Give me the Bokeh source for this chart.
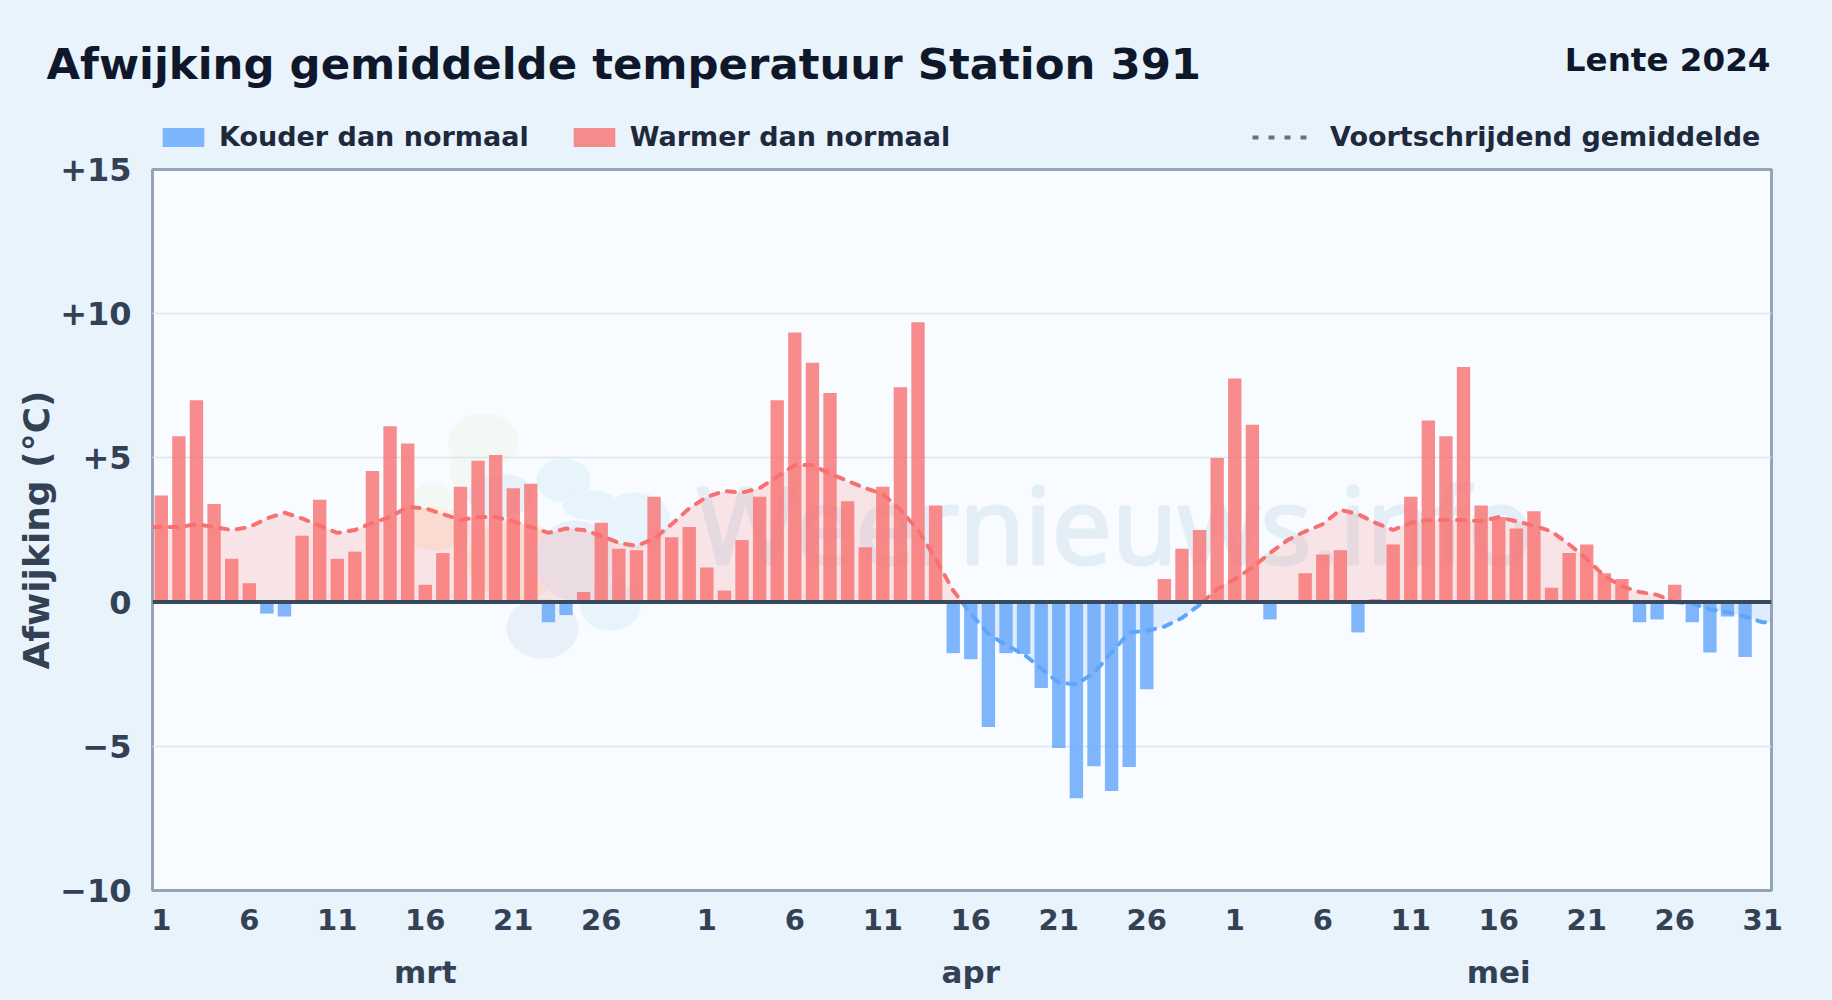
import numpy as np
from bokeh.plotting import figure
from bokeh.layouts import column
from bokeh.core.properties import value
from bokeh.models import (Range1d, FixedTicker, LinearAxis, Span, Legend, LegendItem)
from bokeh.embed import file_html
from bokeh.resources import INLINE

title = "Afwijking gemiddelde temperatuur Station 391"
subtitle = "Lente 2024"
y_label = "Afwijking (°C)"
watermark = "Weernieuws.info"
months = ["mrt", "apr", "mei"]
month_lengths = [31, 30, 31]
last_tick_day = [26, 26, 31]
legend_labels = ["Kouder dan normaal", "Warmer dan normaal", "Voortschrijdend gemiddelde"]

mrt_dev = [3.7, 5.75, 7.0, 3.4, 1.5, 0.65, -0.4, -0.5, 2.3, 3.55, 1.5, 1.75, 4.55, 6.1, 5.5, 0.6,
           1.7, 4.0, 4.9, 5.1, 3.95, 4.1, -0.7, -0.45, 0.35, 2.75, 1.85, 1.8, 3.65, 2.25, 2.6]
apr_dev = [1.2, 0.4, 2.15, 3.65, 7.0, 9.35, 8.3, 7.25, 3.5, 1.9, 4.0, 7.45, 9.7, 3.35, -1.77,
           -1.98, -4.33, -1.77, -1.8, -2.98, -5.06, -6.8, -5.69, -6.55, -5.72, -3.02, 0.8, 1.85, 2.5, 5.0]
mei_dev = [7.75, 6.15, -0.6, 0.0, 1.0, 1.65, 1.8, -1.05, 0.1, 2.0, 3.65, 6.3, 5.75, 8.15, 3.35,
           2.95, 2.55, 3.15, 0.5, 1.7, 2.0, 1.0, 0.8, -0.7, -0.6, 0.6, -0.7, -1.75, -0.5, -1.9, 0.0]

mrt_avg = [2.6, 2.6, 2.7, 2.6, 2.5, 2.6, 2.9, 3.1, 2.9, 2.65, 2.4, 2.5, 2.75, 2.95, 3.3, 3.25,
           3.05, 2.85, 2.95, 2.95, 2.8, 2.6, 2.4, 2.55, 2.5, 2.3, 2.05, 1.95, 2.2, 2.7, 3.25]
apr_avg = [3.65, 3.85, 3.8, 3.95, 4.35, 4.75, 4.75, 4.45, 4.2, 3.95, 3.75, 3.2, 2.5, 1.5, 0.4,
           -0.4, -1.1, -1.5, -1.8, -2.3, -2.8, -2.85, -2.45, -1.75, -1.05, -1.0, -0.85, -0.55, -0.1, 0.45]
mei_avg = [0.8, 1.2, 1.7, 2.15, 2.45, 2.7, 3.2, 3.05, 2.75, 2.5, 2.75, 2.85, 2.85, 2.85, 2.8,
           2.95, 2.8, 2.65, 2.45, 2.0, 1.5, 0.9, 0.55, 0.35, 0.25, 0.0, -0.05, -0.25, -0.35, -0.5, -0.7]

# pale logo behind the chart, given in page pixels: (colour, [(cx, cy, rx, ry), ...])
logo = [
    ("#f2f8f4", [(483, 441, 35, 28), (470, 470, 20, 25), (432, 497, 20, 14)]),
    ("#fbf1e6", [(435, 528, 35, 22), (515, 560, 48, 40)]),
    ("#e8f1f9", [(500, 495, 33, 22), (575, 560, 40, 40), (542, 628, 36, 30)]),
    ("#e8f4fc", [(563, 480, 27, 22), (590, 505, 28, 15), (635, 520, 35, 28), (610, 606, 30, 24)]),
]

WIDTH, HEIGHT = 1832, 1000
HEADER = 152
LEFT, RIGHT, TOP, BOTTOM = 152, 61, 17, 110
BG = "#e8f3fc"
RED, BLUE = "#f87171", "#60a5fa"
BASELINE_SHIFT = 0.41   # the svg text of an "alphabetic" baseline sits this many em low
YMIN, YMAX = -10, 15
dev = np.array(mrt_dev + apr_dev + mei_dev)
avg = np.array(mrt_avg + apr_avg + mei_avg)
days = np.arange(1, len(dev) + 1)

XMIN, XMAX = 0.5, len(dev) + 0.5
FW, FH = WIDTH - LEFT - RIGHT, HEIGHT - HEADER - TOP - BOTTOM

# ---- header: title, period and legends, in page pixels
h = figure(width=WIDTH, height=HEADER, output_backend="svg", toolbar_location=None,
           x_range=Range1d(0, WIDTH), y_range=Range1d(HEADER, 0), frame_align=False,
           min_border_left=0, min_border_right=0, min_border_top=0, min_border_bottom=0,
           background_fill_color=BG, border_fill_color=BG, outline_line_color=None)
h.xaxis.visible = False
h.yaxis.visible = False
h.grid.visible = False
h.text([46], [81 - BASELINE_SHIFT * 43.4], text=[title], text_font=value("DejaVu Sans"), text_font_style="bold",
       text_font_size="43.4px", text_color="#0f172a", text_baseline="alphabetic")
h.text([1770], [73 - BASELINE_SHIFT * 32.6], text=[subtitle], text_font=value("DejaVu Sans"), text_font_style="bold",
       text_font_size="32.6px", text_color="#0f172a", text_baseline="alphabetic", text_align="right")

# legend keys: renderers whose only point lies left of the frame
key_blue = h.vbar([-100], width=1, top=[0], fill_color=BLUE, fill_alpha=0.8, line_color=None)
key_red = h.vbar([-100], width=1, top=[0], fill_color=RED, fill_alpha=0.8, line_color=None)
key_avg = h.line([-100, -90], [0, 0], line_color="#64748b", line_width=4, line_dash="6 10")

def make_legend(items, loc, glyph_w, glyph_h, standoff):
    lg = Legend(items=items, location=loc, orientation="horizontal", background_fill_alpha=0,
                border_line_color=None, padding=0, margin=0, spacing=39,
                glyph_width=glyph_w, glyph_height=glyph_h, label_standoff=standoff,
                label_text_font="DejaVu Sans", label_text_font_style="bold",
                label_text_font_size="27px", label_text_color="#1e293b")
    h.add_layout(lg, "center")

make_legend([LegendItem(label=legend_labels[0], renderers=[key_blue]),
             LegendItem(label=legend_labels[1], renderers=[key_red])], (157, 0), 52, 24, 10)
make_legend([LegendItem(label=legend_labels[2], renderers=[key_avg])], (1252, 0), 56, 20, 22)

# ---- chart
p = figure(width=WIDTH, height=HEIGHT - HEADER, output_backend="svg", toolbar_location=None,
           x_range=Range1d(XMIN, XMAX), y_range=Range1d(YMIN, YMAX), frame_align=False,
           min_border_left=LEFT, min_border_right=RIGHT, min_border_top=TOP, min_border_bottom=BOTTOM,
           background_fill_color="#f8fbff", border_fill_color=BG,
           outline_line_color="#94a3b8", outline_line_width=3)

def to_x(px):
    return XMIN + (px - LEFT) / FW * (XMAX - XMIN)
def to_y(py):
    return YMAX - (py - HEADER - TOP) / FH * (YMAX - YMIN)

t = np.linspace(0, 2 * np.pi, 60)
for colour, blobs in logo:
    xs = [to_x(cx + rx * np.cos(t)) for cx, cy, rx, ry in blobs]
    ys = [to_y(cy + ry * np.sin(t)) for cx, cy, rx, ry in blobs]
    p.patches(xs, ys, fill_color=colour, line_color=None, level="underlay")

p.text([to_x(696)], [to_y(566 - BASELINE_SHIFT * 107)], text=[watermark], text_font=value("Open Sans"),
       text_font_size="107px", text_color="#e4eef7", text_outline_color="#e4eef7",
       text_baseline="alphabetic", level="underlay")

# moving average extended to the frame edges, split at zero crossings
lx = np.concatenate([[XMIN], days, [XMAX]]).astype(float)
ly = np.concatenate([[avg[0]], avg, [avg[-1]]])
ex, ey = [lx[0]], [ly[0]]
for i in range(1, len(lx)):
    if ly[i - 1] * ly[i] < 0:
        f = ly[i - 1] / (ly[i - 1] - ly[i])
        ex.append(lx[i - 1] + f * (lx[i] - lx[i - 1]))
        ey.append(0.0)
    ex.append(lx[i])
    ey.append(ly[i])
ex, ey = np.array(ex), np.array(ey)

p.varea(ex, np.zeros_like(ey), np.maximum(ey, 0), fill_color=RED, fill_alpha=0.17)
p.varea(ex, np.zeros_like(ey), np.minimum(ey, 0), fill_color=BLUE, fill_alpha=0.17)

for sign, col in ((1, RED), (-1, BLUE)):
    seg = np.where(sign * ey >= 0, ey, np.nan)
    p.line(ex, seg, line_color=col, line_width=4, line_dash="8 9", line_cap="round")

pos = dev > 0
neg = dev < 0
p.vbar(x=days[neg], top=0, bottom=dev[neg], width=0.76, fill_color=BLUE, fill_alpha=0.8, line_color=None)
p.vbar(x=days[pos], top=dev[pos], bottom=0, width=0.76, fill_color=RED, fill_alpha=0.8, line_color=None)

p.add_layout(Span(location=0, dimension="width", line_color="#3a485c", line_width=4, level="overlay"))

# axes
TICK_COLOR = "#334155"
yax = p.yaxis[0]
yticks = list(range(YMIN, YMAX + 1, 5))
yax.ticker = FixedTicker(ticks=yticks)
yax.major_label_overrides = {v: (f"+{v}" if v > 0 else (f"\u2212{-v}" if v < 0 else "0")) for v in yticks}
yax.axis_line_color = None
yax.major_tick_line_color = None
yax.minor_tick_line_color = None
yax.major_label_text_font = "DejaVu Sans"
yax.major_label_text_font_style = "bold"
yax.major_label_text_font_size = "32px"
yax.major_label_text_color = TICK_COLOR
yax.major_label_standoff = 15
yax.axis_label = y_label
yax.axis_label_text_font = "DejaVu Sans"
yax.axis_label_text_font_style = "bold"
yax.axis_label_text_font_size = "36px"
yax.axis_label_text_color = TICK_COLOR
yax.axis_label_standoff = 0

starts = np.cumsum([0] + month_lengths[:-1])
xticks, xlabels = [], {}
for s, last in zip(starts, last_tick_day):
    for d in range(1, last + 1, 5):
        xticks.append(int(s + d))
        xlabels[int(s + d)] = str(d)
xax = p.xaxis[0]
xax.ticker = FixedTicker(ticks=xticks)
xax.major_label_overrides = xlabels
xax.axis_line_color = None
xax.major_tick_line_color = None
xax.minor_tick_line_color = None
xax.major_label_text_font = "DejaVu Sans"
xax.major_label_text_font_style = "bold"
xax.major_label_text_font_size = "29px"
xax.major_label_text_color = TICK_COLOR
xax.major_label_standoff = 12

mticks = [int(s) + 16 for s in starts]
max2 = LinearAxis(ticker=FixedTicker(ticks=mticks),
                  major_label_overrides={m: lab for m, lab in zip(mticks, months)},
                  axis_line_color=None, major_tick_line_color=None, minor_tick_line_color=None,
                  major_label_text_font="DejaVu Sans", major_label_text_font_style="bold",
                  major_label_text_font_size="31px", major_label_text_color=TICK_COLOR,
                  major_label_standoff=15)
p.add_layout(max2, "below")

p.xgrid.grid_line_color = None
p.ygrid.grid_line_color = "#dde5ec"
p.ygrid.grid_line_width = 1.5
p.ygrid.ticker = FixedTicker(ticks=yticks)

html = file_html(column(h, p, spacing=0), INLINE)
html = html.replace("<head>", "<head><style>html,body{background:#e8f3fc}</style>", 1)
open("out.html", "w").write(html)
